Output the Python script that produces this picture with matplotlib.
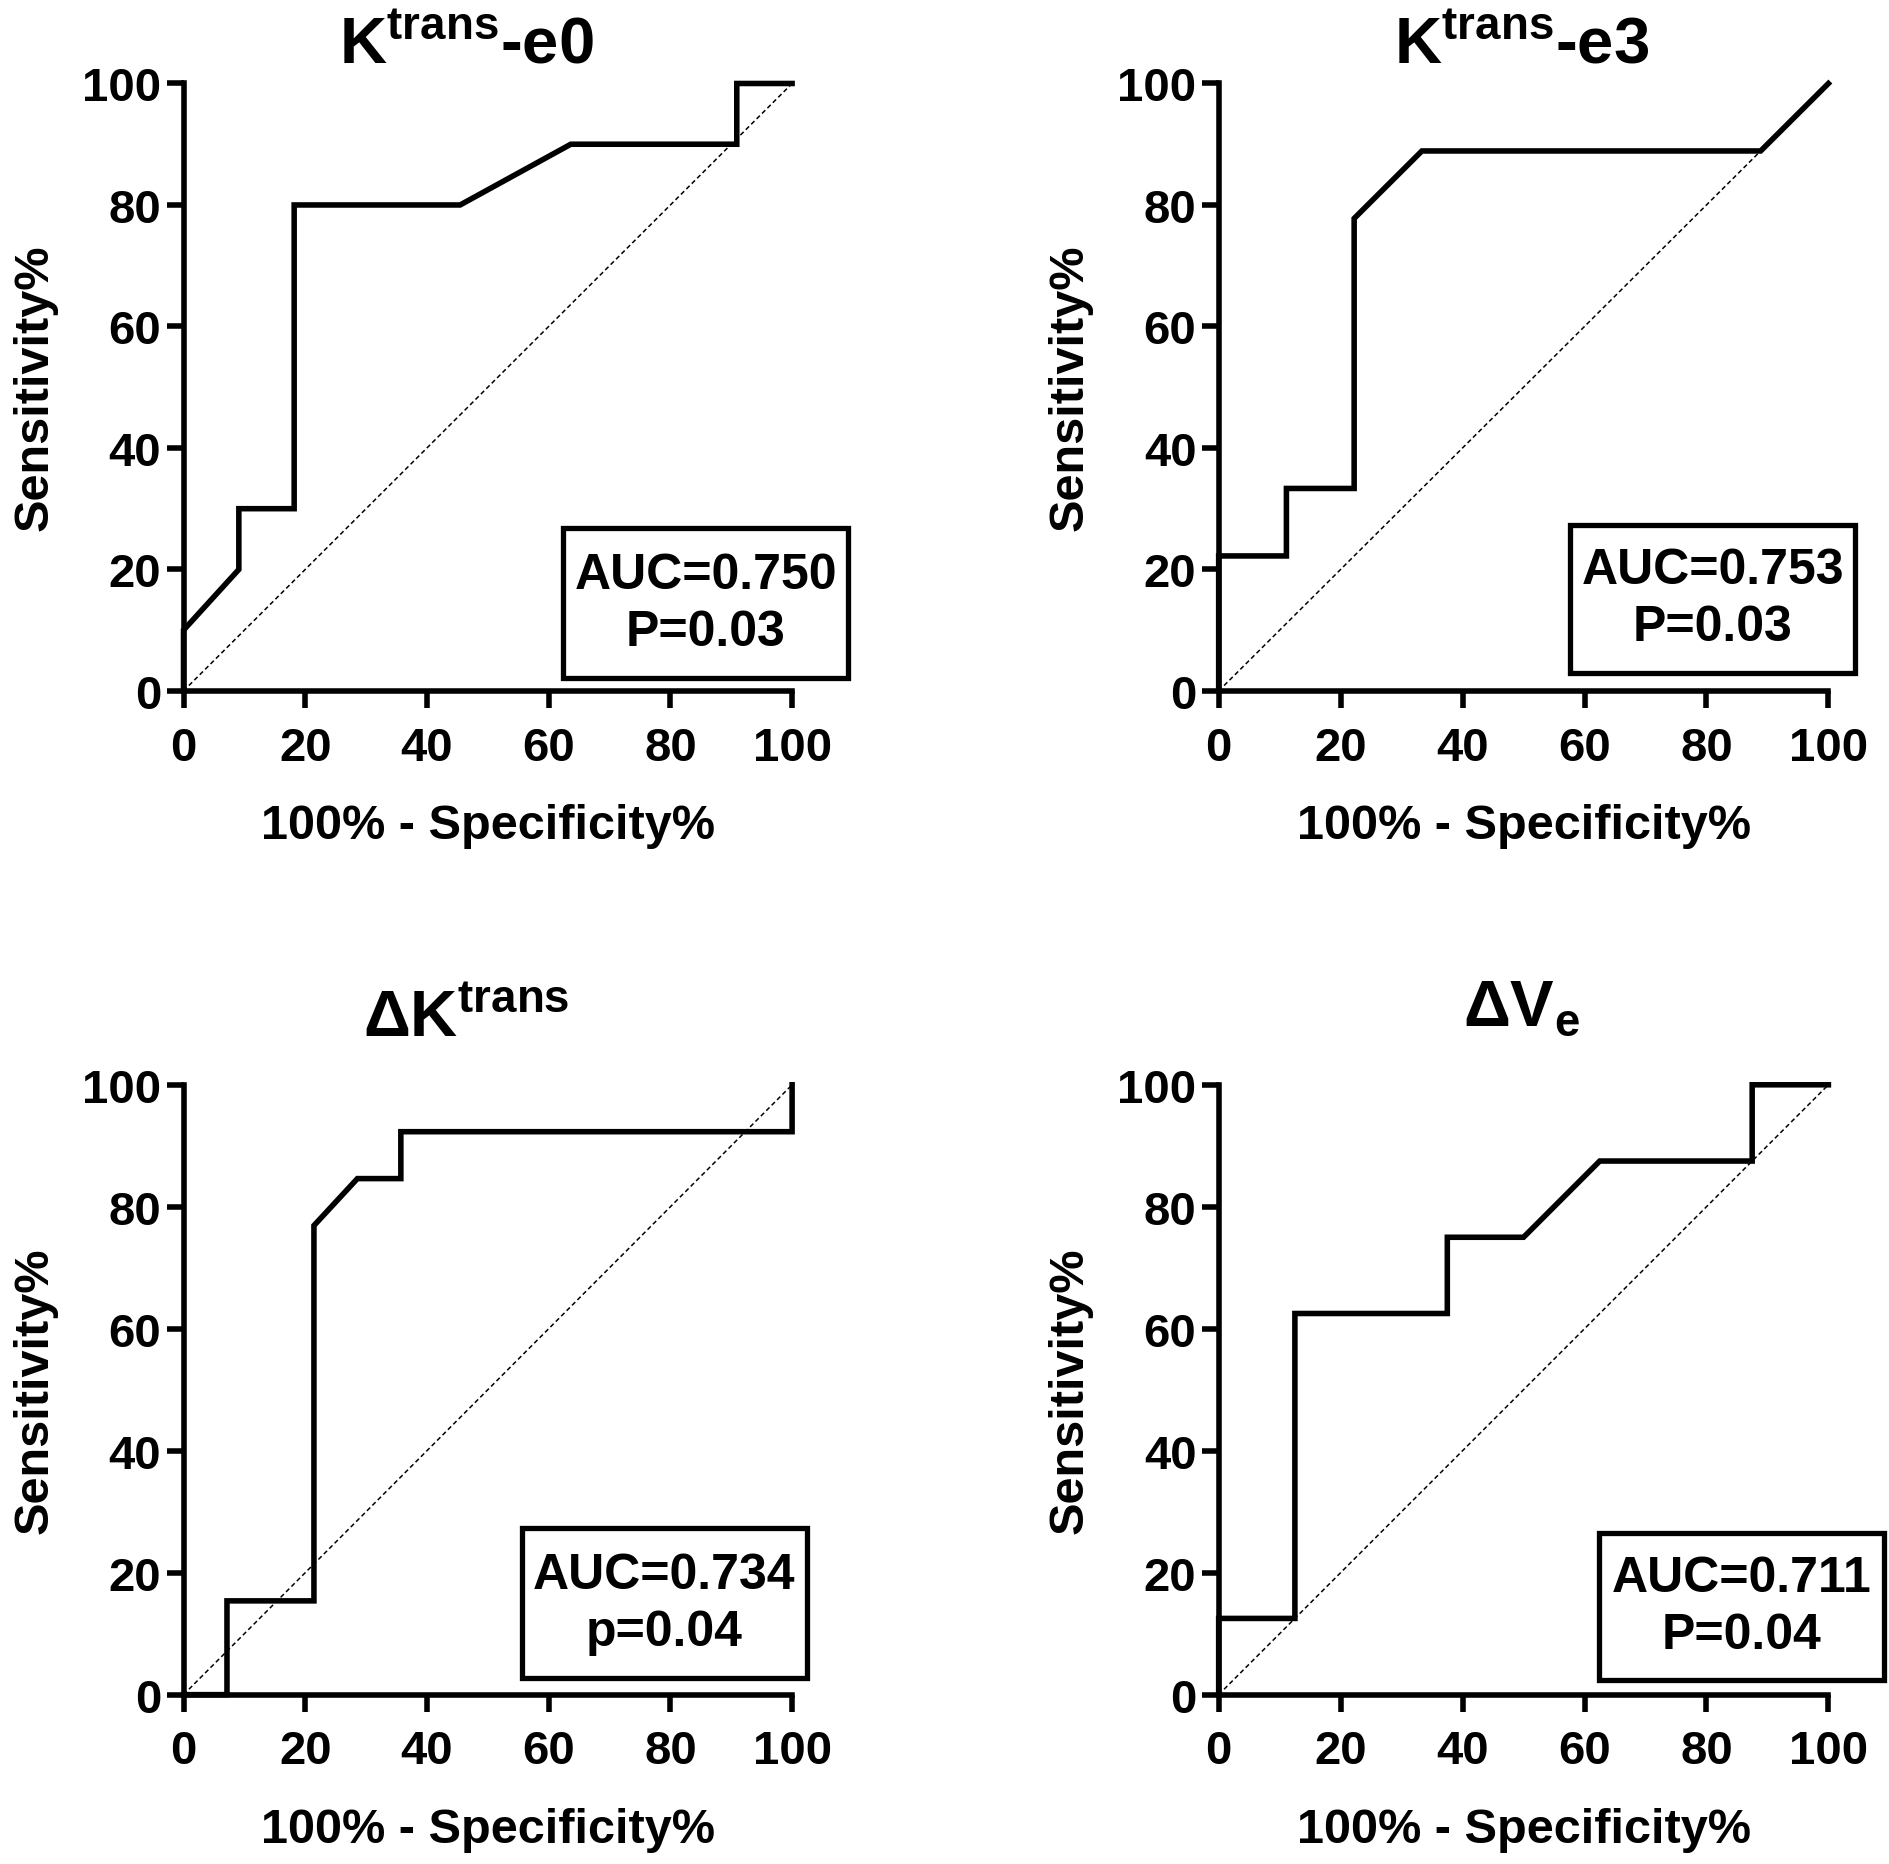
import matplotlib
matplotlib.use('Agg')
import matplotlib.pyplot as plt
from matplotlib.patches import Rectangle

plt.rcParams['font.family'] = ['Liberation Sans', 'DejaVu Sans']
plt.rcParams['font.weight'] = 'bold'
plt.rcParams['mathtext.fontset'] = 'custom'
plt.rcParams['mathtext.rm'] = 'Liberation Sans:bold'
plt.rcParams['mathtext.bf'] = 'Liberation Sans:bold'
plt.rcParams['mathtext.default'] = 'rm'

# Datos de las curvas ROC (100% - especificidad, sensibilidad)
e0_x = [0, 0, 9.09, 9.09, 18.18, 18.18, 45.45, 63.64, 90.91, 90.91, 100]
e0_y = [0, 10, 20, 30, 30, 80, 80, 90, 90, 100, 100]

e3_x = [0, 0, 11.11, 11.11, 22.22, 22.22, 33.33, 88.89, 100]
e3_y = [0, 22.22, 22.22, 33.33, 33.33, 77.78, 88.89, 88.89, 100]

dk_x = [0, 7.14, 7.14, 21.43, 21.43, 28.57, 35.71, 35.71, 100, 100]
dk_y = [0, 0, 15.38, 15.38, 76.92, 84.62, 84.62, 92.31, 92.31, 100]

dve_x = [0, 0, 12.5, 12.5, 37.5, 37.5, 50, 62.5, 87.5, 87.5, 100]
dve_y = [0, 12.5, 12.5, 62.5, 62.5, 75, 75, 87.5, 87.5, 100, 100]

titulos = [r'$K^{trans}$-e0', r'$K^{trans}$-e3', r'Δ$K^{trans}$', r'Δ$V_e$']
textos = ['AUC=0.750\nP=0.03', 'AUC=0.753\nP=0.03', 'AUC=0.734\np=0.04', 'AUC=0.711\nP=0.04']
ticks = [0, 20, 40, 60, 80, 100]

curvas = [(e0_x, e0_y), (e3_x, e3_y), (dk_x, dk_y), (dve_x, dve_y)]

# Posiciones de los ejes y detalles de cada panel
posiciones = [
    [0.0971, 0.629, 0.322, 0.3257],
    [0.6448, 0.629, 0.3226, 0.3257],
    [0.0971, 0.0908, 0.322, 0.327],
    [0.6448, 0.0908, 0.3226, 0.327],
]
cajas = [(62.4, 2.1, 46.8, 24.7), (57.6, 3.0, 46.8, 24.3),
         (55.6, 2.7, 46.8, 24.6), (62.4, 2.4, 46.8, 24.1)]
titulo_pos = [(0.464, 1.035), (0.497, 1.035), (0.464, 1.081), (0.497, 1.098)]

fig = plt.figure(figsize=(18.9, 18.65), dpi=100)

for i in range(4):
    ax = fig.add_axes(posiciones[i])
    x, y = curvas[i]
    ax.plot([0, 100], [0, 100], color='black', lw=1.1, ls=(0, (3, 2)))
    ax.plot(x, y, color='black', lw=4.0, solid_joinstyle='miter', clip_on=False, zorder=3)

    ax.set_xlim(0, 100)
    ax.set_ylim(0, 100)
    ax.set_xticks(ticks)
    ax.set_yticks(ticks)
    for lado in ['top', 'right']:
        ax.spines[lado].set_visible(False)
    for lado in ['left', 'bottom']:
        ax.spines[lado].set_linewidth(4.0)
        ax.spines[lado].set_capstyle('projecting')
    ax.tick_params(axis='both', length=12, width=4.0, labelsize=34)
    ax.tick_params(axis='x', pad=13)
    ax.tick_params(axis='y', pad=4)
    for lab in ax.get_xticklabels() + ax.get_yticklabels():
        lab.set_fontweight('bold')

    ax.set_xlabel('100% - Specificity%', fontsize=35, fontweight='bold', labelpad=24)
    ax.set_ylabel('Sensitivity%', fontsize=35, fontweight='bold', labelpad=18)

    tx, ty = titulo_pos[i]
    ax.text(tx, ty, titulos[i], transform=ax.transAxes, ha='center', va='baseline',
            fontsize=47, fontweight='bold')

    bx, by, bw, bh = cajas[i]
    ax.add_patch(Rectangle((bx, by), bw, bh, fill=False, lw=3.8, ec='black',
                           clip_on=False, zorder=4))
    ax.text(bx + bw / 2, by + bh / 2, textos[i], ha='center', va='center',
            fontsize=36, fontweight='bold', linespacing=1.3, zorder=5)

fig.savefig('out.png', dpi=100, facecolor='white')
